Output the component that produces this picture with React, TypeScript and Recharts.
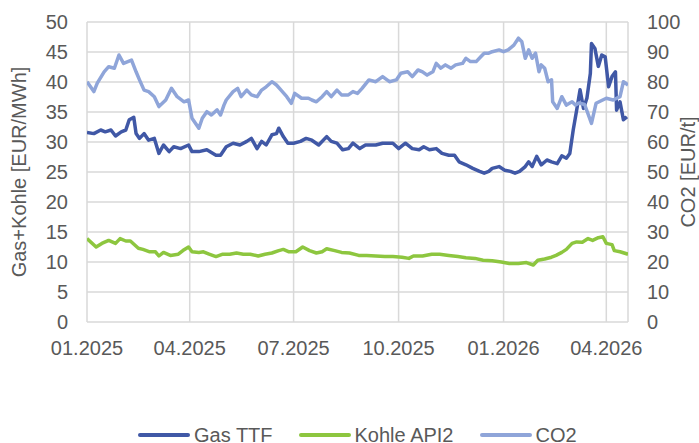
import { CartesianGrid, Legend, Line, LineChart, XAxis, YAxis } from "recharts";

// days since 01.01.2025
const gasDays = [
  0, 6, 12, 16, 21, 25, 30, 34, 37, 41, 43, 46, 50, 54, 59, 63, 67, 72, 76, 82, 89, 92, 98, 105, 113, 117,
  122, 128, 134, 140, 144, 149, 153, 157, 162, 166, 168, 172, 176, 181, 187, 192, 197, 203, 210, 214, 219,
  224, 229, 233, 239, 244, 253, 259, 268, 273, 279, 285, 291, 295, 300, 306, 311, 317, 322, 326, 332, 338,
  344, 348, 352, 355, 361, 366, 371, 375, 379, 384, 387, 390, 394, 398, 403, 407, 412, 416, 420, 423, 426,
  429, 432, 435, 438, 441, 442, 445, 448, 451, 454, 457, 460, 463, 464, 467, 470, 473,
];
const gasValues = [
  31.6, 31.4, 32, 31.7, 32, 31, 31.7, 32, 33.7, 34.1, 31.4, 30.6, 31.4, 30.3, 30.6, 28.1, 29.5, 28.4, 29.2,
  28.9, 29.5, 28.4, 28.4, 28.7, 27.8, 27.8, 29.2, 29.8, 29.5, 30.1, 30.6, 28.9, 30.1, 29.5, 31.2, 31.4, 32.3,
  30.9, 29.8, 29.8, 30.1, 30.6, 30.3, 29.5, 30.9, 30.1, 29.8, 28.7, 28.9, 29.8, 28.9, 29.5, 29.5, 29.8, 29.8,
  28.9, 29.8, 28.9, 28.7, 29.2, 28.7, 28.9, 28.1, 27.8, 27.8, 26.7, 26.2, 25.6, 25.1, 24.8, 25.1, 25.6, 25.9,
  25.3, 25.1, 24.8, 25.1, 25.9, 26.7, 25.9, 27.6, 26.2, 27, 26.7, 26.4, 27.7, 27.3, 28.1, 32, 35.3, 38.7,
  35.6, 37.3, 41.4, 46.4, 45.6, 42.6, 44.5, 44.2, 39.2, 40.9, 41.7, 35.3, 36.7, 33.7, 34.2,
];

const coalDays = [
  0, 8, 13, 19, 25, 29, 34, 38, 45, 49, 55, 60, 63, 67, 73, 80, 84, 89, 92, 98, 102, 107, 113, 119, 125, 131,
  137, 143, 150, 156, 162, 168, 172, 177, 183, 189, 195, 201, 206, 210, 217, 223, 230, 238, 245, 253, 261,
  268, 276, 282, 286, 294, 302, 309, 317, 325, 332, 340, 347, 355, 363, 370, 378, 385, 391, 395, 401, 407,
  411, 416, 420, 425, 429, 434, 439, 443, 448, 452, 455, 460, 462, 467, 474,
];
const coalValues = [
  13.9, 12.5, 13.1, 13.6, 13.1, 13.9, 13.5, 13.5, 12.3, 12.1, 11.7, 11.7, 11, 11.6, 11.1, 11.3, 11.9, 12.5,
  11.7, 11.6, 11.7, 11.3, 10.9, 11.3, 11.3, 11.5, 11.3, 11.3, 11, 11.3, 11.5, 11.9, 12.1, 11.7, 11.7, 12.5,
  11.9, 11.5, 11.7, 12.2, 11.9, 11.6, 11.5, 11.1, 11.1, 11, 10.9, 10.9, 10.8, 10.6, 11, 11, 11.3, 11.3, 11.1,
  10.9, 10.7, 10.6, 10.3, 10.2, 10, 9.75, 9.75, 9.9, 9.5, 10.3, 10.5, 10.8, 11.1, 11.6, 12.1, 13.1, 13.35,
  13.3, 13.9, 13.6, 14.05, 14.2, 13.1, 12.9, 11.9, 11.7, 11.3,
];

const co2Days = [
  0, 6, 9, 15, 19, 24, 28, 32, 39, 43, 46, 50, 54, 59, 63, 69, 74, 79, 85, 89, 92, 98, 101, 105, 109, 114,
  117, 120, 122, 128, 132, 135, 140, 144, 149, 153, 157, 162, 166, 170, 175, 179, 182, 188, 194, 197, 201,
  206, 210, 214, 219, 223, 229, 233, 237, 241, 247, 253, 259, 265, 271, 275, 281, 285, 290, 294, 298, 303,
  306, 310, 314, 319, 323, 329, 332, 336, 341, 345, 348, 352, 355, 361, 365, 369, 374, 378, 381, 384, 387,
  390, 393, 396, 398, 401, 404, 407, 408, 412, 416, 420, 425, 428, 431, 436, 442, 446, 455, 461, 467, 470,
  474,
];
const co2Values = [
  80.1, 76.8, 79.6, 83.4, 85.1, 84.6, 89, 86.2, 87.3, 83.4, 80.7, 77.3, 76.8, 75.1, 71.8, 74, 77.9, 75.1,
  73.4, 74, 67.9, 64.6, 67.9, 70.1, 69, 70.7, 69, 72.3, 74, 76.8, 77.9, 75.1, 77.3, 75.7, 75.1, 77.3, 78.4,
  80.1, 79, 77.3, 75.1, 72.9, 76.2, 74.6, 74.6, 74, 73.4, 75.1, 76.8, 75.1, 77.3, 75.7, 75.7, 76.8, 76.2,
  77.9, 80.7, 80.1, 81.8, 80.1, 80.7, 82.9, 83.4, 81.8, 84, 83.4, 82.3, 83.4, 86.2, 84.6, 85.7, 84.6, 85.7,
  86.2, 87.9, 86.8, 86.8, 88.4, 89.6, 89.6, 90.1, 90.7, 90.1, 90.7, 92.3, 94.6, 93.4, 87.9, 90.7, 87.9,
  89.6, 83.4, 85.7, 84.6, 80.1, 80.7, 73.4, 71.2, 75.1, 72.3, 73.4, 72.3, 73, 72.5, 66.2, 72.9, 74.6, 74,
  75.1, 80.1, 79,
];

const xTicks = [0, 90, 181, 273, 365, 455];
const xTickLabels = ["01.2025", "04.2025", "07.2025", "10.2025", "01.2026", "04.2026"];
const leftTicks = [0, 5, 10, 15, 20, 25, 30, 35, 40, 45, 50];
const rightTicks = [0, 10, 20, 30, 40, 50, 60, 70, 80, 90, 100];
const legendOrder = ["Gas TTF", "Kohle API2", "CO2"];

const gasData = gasDays.map((day, i) => ({ day, value: gasValues[i] }));
const coalData = coalDays.map((day, i) => ({ day, value: coalValues[i] }));
const co2Data = co2Days.map((day, i) => ({ day, value: co2Values[i] }));

const FONT = '"Liberation Sans", Arial, sans-serif';
const TEXT = "#595959";
const tickStyle = { fontSize: 20, fill: TEXT, fontFamily: FONT };

function LegendContent({ payload }: any) {
  const items = [...(payload ?? [])].sort(
    (a: any, b: any) => legendOrder.indexOf(a.value) - legendOrder.indexOf(b.value)
  );
  return (
    <div
      style={{
        display: "flex",
        alignItems: "center",
        width: 480,
        height: 28,
        gap: 26,
        fontFamily: FONT,
        fontSize: 20,
        color: TEXT,
        whiteSpace: "nowrap",
      }}
    >
      {items.map((entry: any) => (
        <div key={entry.value} style={{ display: "flex", alignItems: "center", flex: "none" }}>
          <svg width={52} height={6}>
            <line x1={2} y1={3} x2={50} y2={3} stroke={entry.color} strokeWidth={4} strokeLinecap="round" />
          </svg>
          <span style={{ marginLeft: 4, lineHeight: "28px" }}>{entry.value}</span>
        </div>
      ))}
    </div>
  );
}

function AxisTitle({ viewBox, value, dx }: any) {
  const x = viewBox.x + dx;
  const y = viewBox.y + viewBox.height / 2;
  return (
    <text
      x={x}
      y={y}
      transform={`rotate(-90 ${x} ${y})`}
      textAnchor="middle"
      dominantBaseline="central"
      fontSize={20}
      fontFamily={FONT}
      fill={TEXT}
    >
      {value}
    </text>
  );
}

export default function App() {
  return (
    <div style={{ position: "absolute", left: 0, top: 0, background: "#fff" }}>
      <LineChart width={699} height={443} margin={{ top: 22, right: 0, bottom: 53, left: 0 }}>
        <CartesianGrid stroke="#d9d9d9" strokeWidth={1.5} yAxisId="left" />
        <XAxis
          dataKey="day"
          type="number"
          domain={[0, 474]}
          ticks={xTicks}
          tickFormatter={(v: number) => xTickLabels[xTicks.indexOf(v)] ?? ""}
          tick={tickStyle}
          tickLine={false}
          axisLine={false}
          tickSize={6}
          tickMargin={13}
          height={40}
          allowDataOverflow
        />
        <YAxis
          yAxisId="left"
          domain={[0, 50]}
          ticks={leftTicks}
          tick={tickStyle}
          tickLine={false}
          axisLine={false}
          tickSize={6}
          tickMargin={13}
          width={87}
          label={<AxisTitle value="Gas+Kohle [EUR/MWh]" dx={19} />}
        />
        <YAxis
          yAxisId="right"
          orientation="right"
          domain={[0, 100]}
          ticks={rightTicks}
          tick={{ ...tickStyle, textAnchor: "start" }}
          tickLine={false}
          axisLine={false}
          tickSize={6}
          tickMargin={13}
          width={71}
          label={<AxisTitle value="CO2 [EUR/t]" dx={60} />}
        />
        <Line
          yAxisId="left"
          data={gasData}
          dataKey="value"
          name="Gas TTF"
          stroke="#4058a6"
          strokeWidth={3.5}
          strokeLinejoin="round"
          dot={false}
          activeDot={false}
          isAnimationActive={false}
        />
        <Line
          yAxisId="left"
          data={coalData}
          dataKey="value"
          name="Kohle API2"
          stroke="#8dc63f"
          strokeWidth={3.5}
          strokeLinejoin="round"
          dot={false}
          activeDot={false}
          isAnimationActive={false}
        />
        <Line
          yAxisId="right"
          data={co2Data}
          dataKey="value"
          name="CO2"
          stroke="#8fa5d9"
          strokeWidth={3.5}
          strokeLinejoin="round"
          dot={false}
          activeDot={false}
          isAnimationActive={false}
        />
        <Legend
          content={<LegendContent />}
          wrapperStyle={{ top: 421, left: 138, bottom: "auto", width: 480, height: 28 }}
        />
      </LineChart>
    </div>
  );
}
